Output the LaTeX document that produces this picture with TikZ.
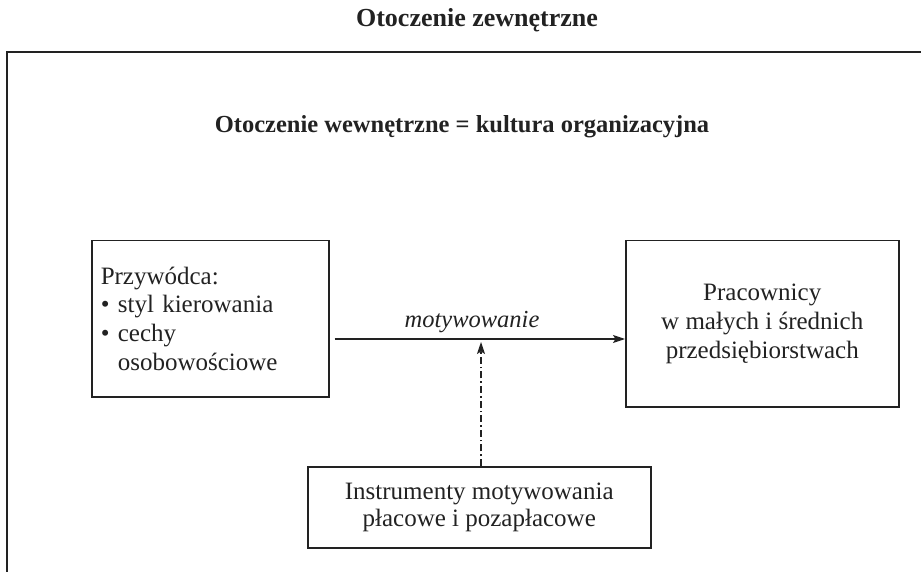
\documentclass[tikz,border=0pt]{standalone}
\usepackage{fontspec}
\setmainfont{Liberation Serif}
\usetikzlibrary{arrows.meta}
\definecolor{ink}{HTML}{222222}
\tikzset{
  boxnode/.style={draw=ink, line width=1.5pt, text=ink, inner sep=0pt, font=\fontsize{25}{28.8}\selectfont},
  arr/.style={draw=ink, line width=1.2pt, -{Stealth[length=12pt,width=8pt,inset=2.5pt]}},
  dashdot/.style={draw=ink, line width=1.2pt, dash pattern=on 7pt off 3pt on 1.6pt off 3pt, -{Stealth[length=12pt,width=8pt,inset=2.5pt]}},
  titletext/.style={text=ink, inner sep=0pt, anchor=base}
}
\begin{document}
\begin{tikzpicture}[x=1pt,y=-1pt]
\useasboundingbox (0,0) rectangle (921,572);
\clip (0,0) rectangle (921,572);
% outer frame (internal environment)
\draw[ink, line width=2.2pt] (7,52) rectangle (940,600);
% titles
\node[titletext, font=\fontsize{26}{30}\selectfont\bfseries] (ext) at (477,27) {Otoczenie zewnętrzne};
\node[titletext, font=\fontsize{24.5}{29}\selectfont\bfseries] (int) at (462,133) {Otoczenie wewnętrzne = kultura organizacyjna};
% boxes
\node[boxnode, anchor=north west, minimum width=237pt, minimum height=156pt,
      align=left, text width=219pt, inner xsep=9pt] (lead) at (91,240)
  {Przywódca:\\ \textbullet\ styl kierowania\\ \textbullet\ cechy\\ \hphantom{\textbullet\ }osobowościowe};
\node[boxnode, anchor=north west, minimum width=273pt, minimum height=166pt, align=center] (staff) at (625,240)
  {Pracownicy\\ w małych i średnich\\ przedsiębiorstwach};
\node[boxnode, anchor=north west, minimum width=343pt, minimum height=81pt, align=center,
      font=\fontsize{25}{27.5}\selectfont] (instr) at (307,466)
  {Instrumenty motywowania\\ płacowe i pozapłacowe};
% connectors
\coordinate (ay) at (0,339);
\draw[arr] ([xshift=5pt]lead.east |- ay) -- (staff.west |- ay);
\node[text=ink, inner sep=0pt, anchor=base, font=\fontsize{24.5}{28}\selectfont\itshape] (mot) at (472,327) {motywowanie};
\coordinate (tip) at (481,342);
\draw[dashdot] (instr.north -| tip) -- (tip);
\end{tikzpicture}
\end{document}
